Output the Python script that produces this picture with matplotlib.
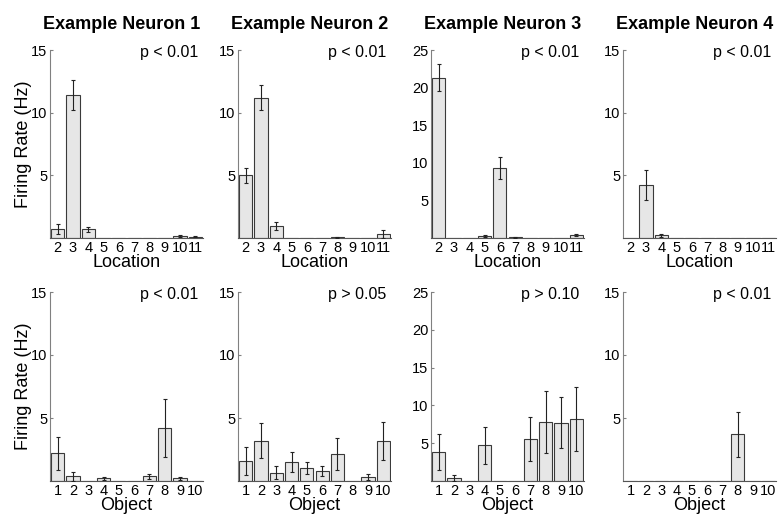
import numpy as np
import matplotlib
matplotlib.use("Agg")
import matplotlib.pyplot as plt

plt.rcParams['font.family'] = ['Liberation Sans', 'DejaVu Sans']

# neuron titles and p-value labels
titles = ["Example Neuron 1", "Example Neuron 2", "Example Neuron 3", "Example Neuron 4"]
p_loc = ["p < 0.01", "p < 0.01", "p < 0.01", "p < 0.01"]
p_obj = ["p < 0.01", "p > 0.05", "p > 0.10", "p < 0.01"]
ymax = [15, 15, 25, 15]

# locations 2..11
locations = list(range(2, 12))
loc_n1 = [0.7, 11.4, 0.7, 0, 0, 0, 0, 0, 0.15, 0.1]
loc_n1_err = [0.4, 1.2, 0.2, 0, 0, 0, 0, 0, 0.1, 0.05]
loc_n2 = [5.0, 11.2, 0.95, 0, 0, 0, 0.05, 0, 0, 0.3]
loc_n2_err = [0.6, 1.0, 0.33, 0, 0, 0, 0.05, 0, 0, 0.3]
loc_n3 = [21.3, 0, 0, 0.27, 9.3, 0.1, 0, 0, 0, 0.35]
loc_n3_err = [1.8, 0, 0, 0.15, 1.5, 0.05, 0, 0, 0, 0.15]
loc_n4 = [0, 4.2, 0.2, 0, 0, 0, 0, 0, 0, 0]
loc_n4_err = [0, 1.2, 0.1, 0, 0, 0, 0, 0, 0, 0]

# objects 1..10
objects = list(range(1, 11))
obj_n1 = [2.2, 0.37, 0, 0.2, 0, 0, 0.37, 4.2, 0.2, 0]
obj_n1_err = [1.3, 0.35, 0, 0.15, 0, 0, 0.2, 2.3, 0.12, 0]
obj_n2 = [1.57, 3.2, 0.66, 1.52, 1.04, 0.82, 2.15, 0, 0.35, 3.2]
obj_n2_err = [1.1, 1.4, 0.53, 0.8, 0.5, 0.4, 1.25, 0, 0.24, 1.5]
obj_n3 = [3.85, 0.4, 0, 4.7, 0, 0, 5.6, 7.8, 7.7, 8.2]
obj_n3_err = [2.4, 0.35, 0, 2.4, 0, 0, 2.9, 4.1, 3.4, 4.2]
obj_n4 = [0, 0, 0, 0, 0, 0, 0, 3.7, 0, 0]
obj_n4_err = [0, 0, 0, 0, 0, 0, 0, 1.8, 0, 0]

loc_vals = [loc_n1, loc_n2, loc_n3, loc_n4]
loc_errs = [loc_n1_err, loc_n2_err, loc_n3_err, loc_n4_err]
obj_vals = [obj_n1, obj_n2, obj_n3, obj_n4]
obj_errs = [obj_n1_err, obj_n2_err, obj_n3_err, obj_n4_err]

fig = plt.figure(figsize=(7.82, 5.16), dpi=100)

lefts = [50, 238, 431, 623]
W, H = 782.0, 516.0


def draw_panel(ax, xs, vals, errs, top, ptext, xlabel, ylabel, title=None):
    vals = np.array(vals)
    errs = np.array(errs)
    ax.bar(xs, vals, width=0.86, color="#e6e6e6", edgecolor="#3a3a3a", linewidth=0.8, zorder=2)
    mask = vals > 0
    ax.errorbar(np.array(xs)[mask], vals[mask], yerr=errs[mask], fmt="none",
                ecolor="#222222", elinewidth=0.8, capsize=1.5, capthick=0.8, zorder=3)
    ax.set_xlim(xs[0] - 0.5, xs[-1] + 0.5)
    ax.set_ylim(0, top)
    ax.set_yticks(list(range(5, top + 1, 5)))
    ax.set_xticks(xs)
    ax.spines["top"].set_visible(False)
    ax.spines["right"].set_visible(False)
    ax.spines["left"].set_color("#808080")
    ax.spines["bottom"].set_color("#555555")
    ax.tick_params(axis="y", direction="in", length=2.5, pad=2, labelsize=10.5, color="#808080")
    ax.tick_params(axis="x", length=0, pad=2.5, labelsize=10.5)
    ax.set_xlabel(xlabel, fontsize=13, labelpad=-1)
    if ylabel:
        ax.set_ylabel(ylabel, fontsize=13, labelpad=-1)
    ax.text(0.97, 0.985, ptext, transform=ax.transAxes, ha="right", va="center", fontsize=11.5)
    if title:
        ax.set_title(title, fontsize=13, fontweight="bold", pad=15, x=0.47)


for i in range(4):
    ax = fig.add_axes([lefts[i] / W, (H - 238) / H, 153 / W, 188 / H])
    draw_panel(ax, locations, loc_vals[i], loc_errs[i], ymax[i], p_loc[i], "Location",
               "Firing Rate (Hz)" if i == 0 else None, titles[i])
    ax2 = fig.add_axes([lefts[i] / W, (H - 481) / H, 153 / W, 189 / H])
    draw_panel(ax2, objects, obj_vals[i], obj_errs[i], ymax[i], p_obj[i], "Object",
               "Firing Rate (Hz)" if i == 0 else None)

fig.savefig("out.png", dpi=100)
